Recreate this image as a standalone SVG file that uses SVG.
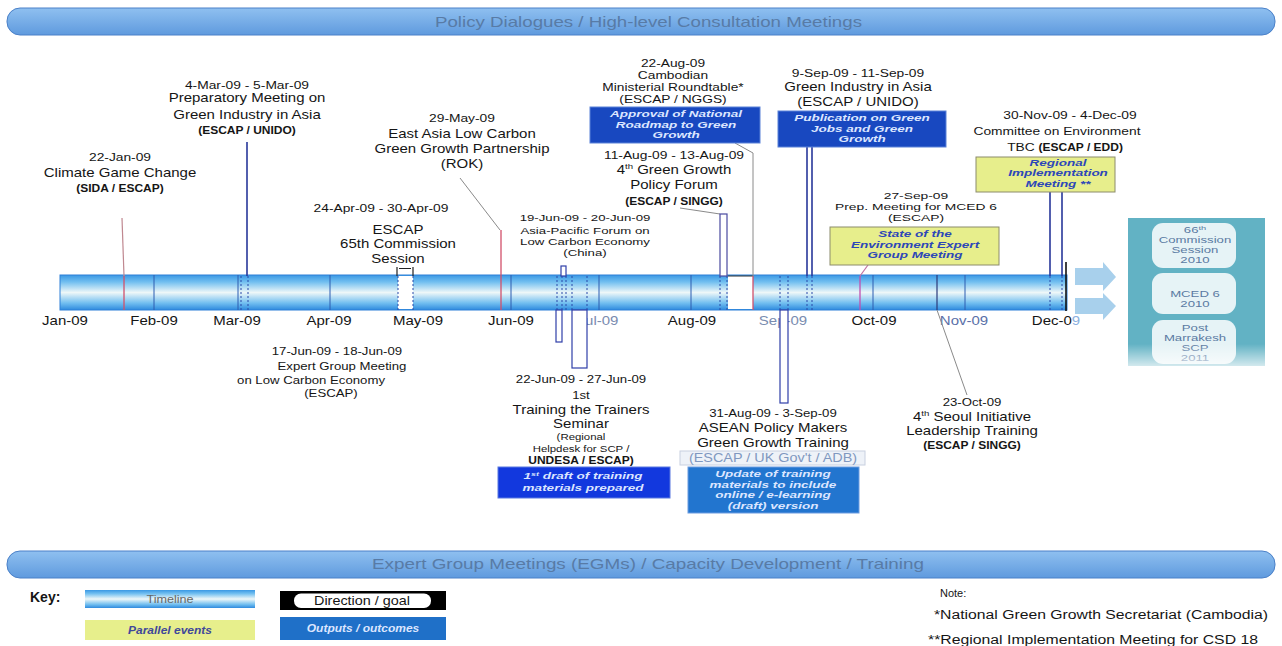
<svg xmlns="http://www.w3.org/2000/svg" width="1282" height="646" viewBox="0 0 1282 646">
<defs>
<linearGradient id="gTl" x1="0" y1="0" x2="0" y2="1">
<stop offset="0" stop-color="#3a98e4"/>
<stop offset="0.2" stop-color="#72bff0"/>
<stop offset="0.5" stop-color="#eef7f8"/>
<stop offset="0.8" stop-color="#72bff0"/>
<stop offset="1" stop-color="#2e8ade"/>
</linearGradient>
<linearGradient id="gHd" x1="0" y1="0" x2="0" y2="1">
<stop offset="0" stop-color="#8fc0f0"/>
<stop offset="1" stop-color="#5f9ade"/>
</linearGradient>
<linearGradient id="gFade" x1="0" y1="0" x2="0" y2="1">
<stop offset="0" stop-color="#fff" stop-opacity="0"/>
<stop offset="1" stop-color="#fff" stop-opacity="0.75"/>
</linearGradient>
</defs>
<style>
text{font-family:"Liberation Sans",Arial,sans-serif;fill:#151515}
.d{font-size:11.5px}
.t{font-size:12.5px}
.s{font-size:11px}
.p{font-size:10px;font-weight:bold}
.bw{font-size:9px;font-weight:bold;font-style:italic;fill:#dce6ff}
.by{font-size:9px;font-weight:bold;font-style:italic;fill:#2d47b8}
.m{font-size:12.5px}
.o{font-size:8.5px;fill:#5a7aa2}
.hd{font-size:14.5px;fill:#587ba6}
.ob{fill:#1848c0;stroke:#5b82d8;stroke-width:1}
.yl{fill:#e7ee8c;stroke:#8c8c6c;stroke-width:1}
.sep{stroke:#2d5cb0;stroke-width:1}
.dsh{stroke:#2848a8;stroke-width:1;stroke-dasharray:2 2}
.red{stroke:#d2506a;stroke-width:1.3;fill:none}
.gr{stroke:#8a8a8a;stroke-width:1;fill:none}
.nv{stroke:#27379a;stroke-width:1.6;fill:none}
.rng{fill:#fff;stroke:#2f3fa8;stroke-width:1.2}
</style>

<rect width="1282" height="646" fill="#fff"/>

<!-- header bars -->
<g id="header-top">
<rect x="7" y="8" width="1268" height="27" rx="13" fill="url(#gHd)" stroke="#4a80c8"/>
<text class="hd" x="435" y="27" textLength="427" lengthAdjust="spacingAndGlyphs">Policy Dialogues / High-level Consultation Meetings</text>
</g>
<g id="header-bottom">
<rect x="7" y="551" width="1268" height="27" rx="13" fill="url(#gHd)" stroke="#4a80c8"/>
<text class="hd" x="372" y="569" textLength="552" lengthAdjust="spacingAndGlyphs">Expert Group Meetings (EGMs) / Capacity Development / Training</text>
</g>

<!-- timeline -->
<g id="timeline">
<rect x="60" y="275" width="1007" height="35" fill="url(#gTl)" stroke="#2f80d8"/>
<rect x="398" y="276" width="15" height="33" fill="#fff"/>
<rect x="728" y="276" width="25" height="33" fill="#fff"/>
<line x1="728" y1="276" x2="753" y2="276" stroke="#333"/>
<g class="sep">
<line x1="154" y1="275" x2="154" y2="310"/>
<line x1="238" y1="275" x2="238" y2="310"/>
<line x1="330" y1="275" x2="330" y2="310"/>
<line x1="511" y1="275" x2="511" y2="310"/>
<line x1="599" y1="275" x2="599" y2="310"/>
<line x1="691" y1="275" x2="691" y2="310"/>
<line x1="873" y1="275" x2="873" y2="310"/>
<line x1="965" y1="275" x2="965" y2="310"/>
</g>
<g class="dsh">
<line x1="241" y1="276" x2="241" y2="310"/>
<line x1="248" y1="276" x2="248" y2="310"/>
<line x1="398" y1="276" x2="398" y2="310"/>
<line x1="413" y1="276" x2="413" y2="310"/>
<line x1="557" y1="276" x2="557" y2="310"/>
<line x1="562" y1="276" x2="562" y2="310"/>
<line x1="566" y1="276" x2="566" y2="310"/>
<line x1="572" y1="276" x2="572" y2="310"/>
<line x1="587" y1="276" x2="587" y2="310"/>
<line x1="720" y1="276" x2="720" y2="310"/>
<line x1="727" y1="276" x2="727" y2="310"/>
<line x1="780" y1="276" x2="780" y2="310"/>
<line x1="788" y1="276" x2="788" y2="310"/>
<line x1="807" y1="276" x2="807" y2="310"/>
<line x1="812" y1="276" x2="812" y2="310"/>
<line x1="1050" y1="276" x2="1050" y2="310"/>
<line x1="1062" y1="276" x2="1062" y2="310"/>
</g>
<g text-anchor="middle">
<g transform="translate(65 0) scale(1.2 1)"><text class="m" y="325">Jan-09</text></g>
<g transform="translate(154 0) scale(1.2 1)"><text class="m" y="325">Feb-09</text></g>
<g transform="translate(237 0) scale(1.2 1)"><text class="m" y="325">Mar-09</text></g>
<g transform="translate(329 0) scale(1.2 1)"><text class="m" y="325">Apr-09</text></g>
<g transform="translate(418 0) scale(1.2 1)"><text class="m" y="325">May-09</text></g>
<g transform="translate(511 0) scale(1.2 1)"><text class="m" y="325">Jun-09</text></g>
<g transform="translate(598 0) scale(1.2 1)"><text class="m" y="325" style="fill:#7a8cb0">Jul-09</text></g>
<g transform="translate(692 0) scale(1.2 1)"><text class="m" y="325">Aug-09</text></g>
<g transform="translate(783 0) scale(1.2 1)"><text class="m" y="325" style="fill:#7a8cb0">Sep-09</text></g>
<g transform="translate(874 0) scale(1.2 1)"><text class="m" y="325">Oct-09</text></g>
<g transform="translate(964 0) scale(1.2 1)"><text class="m" y="325" style="fill:#5a70a8">Nov-09</text></g>
<g transform="translate(1056 0) scale(1.2 1)"><text class="m" y="325">Dec-0<tspan style="fill:#8ab0e0">9</tspan></text></g>
</g>
</g>

<!-- connectors -->
<g id="connectors">
<line x1="122" y1="218" x2="124" y2="276" stroke="#c08890" stroke-width="1.2"/>
<line class="red" x1="124" y1="276" x2="124" y2="310"/>
<line class="nv" x1="247" y1="142" x2="247" y2="276"/>
<path d="M397,276 V267 M413,276 V267 M399,268.5 H411" stroke="#222" stroke-width="1.2" fill="none"/>
<path class="gr" d="M460,178 L500,230"/>
<line class="red" x1="501" y1="230" x2="501" y2="310"/>
<rect class="rng" x="561" y="266" width="5" height="10"/>
<path class="gr" d="M735,143 L753,153 V276"/>
<line class="red" x1="753" y1="276" x2="753" y2="310"/>
<path class="gr" d="M680,208 L720,214"/>
<rect x="720" y="214" width="7" height="62" fill="#fff" stroke="#4a4aa0" stroke-width="1.2"/>
<line class="nv" x1="807" y1="147" x2="807" y2="276"/>
<line class="nv" x1="812" y1="147" x2="812" y2="276"/>
<path d="M868,265 L860,276" stroke="#c070a0" stroke-width="1.2" fill="none"/>
<line x1="860" y1="276" x2="860" y2="310" stroke="#c050b0" stroke-width="1.3"/>
<line class="nv" x1="1050" y1="192" x2="1050" y2="276"/>
<line class="nv" x1="1062" y1="192" x2="1062" y2="276"/>
<line x1="1066" y1="262" x2="1066" y2="311" stroke="#111" stroke-width="1.6"/>
<rect class="rng" x="556" y="310" width="6" height="32"/>
<rect class="rng" x="572" y="310" width="15" height="58"/>
<rect class="rng" x="780" y="310" width="8" height="93"/>
<line x1="937" y1="275" x2="937" y2="310" stroke="#2a3a7a" stroke-width="1.2"/>
<path class="gr" d="M937,310 L967,395"/>
</g>

<!-- events above -->
<g id="ev-climate-game-change">
<g transform="translate(120 0) scale(1.2 1)" text-anchor="middle">
<text class="d" y="161">22-Jan-09</text>
<text class="t" y="177">Climate Game Change</text>
<text class="p" y="192">(SIDA / ESCAP)</text>
</g></g>

<g id="ev-prep-green-industry">
<g transform="translate(247 0) scale(1.2 1)" text-anchor="middle">
<text class="d" y="89">4-Mar-09 - 5-Mar-09</text>
<text class="t" y="102.5">Preparatory Meeting on</text>
<text class="t" y="119">Green Industry in Asia</text>
<text class="p" y="134">(ESCAP / UNIDO)</text>
</g></g>

<g id="ev-escap-65th">
<g transform="translate(381 0) scale(1.2 1)" text-anchor="middle">
<text class="d" y="212">24-Apr-09 - 30-Apr-09</text>
</g>
<g transform="translate(398 0) scale(1.2 1)" text-anchor="middle">
<text class="t" y="234.5">ESCAP</text>
<text class="t" y="248.5">65th Commission</text>
<text class="t" y="263">Session</text>
</g></g>

<g id="ev-east-asia-low-carbon">
<g transform="translate(462 0) scale(1.2 1)" text-anchor="middle">
<text class="d" y="122">29-May-09</text>
<text class="t" y="138.5">East Asia Low Carbon</text>
<text class="t" y="153.5">Green Growth Partnership</text>
<text class="t" y="168.5">(ROK)</text>
</g></g>

<g id="ev-asia-pacific-forum">
<g transform="translate(585 0) scale(1.39 1)" text-anchor="middle" style="font-size:9.5px">
<text y="221">19-Jun-09 - 20-Jun-09</text>
<text y="234.5">Asia-Pacific Forum on</text>
<text y="245.5">Low Carbon Economy</text>
<text y="256.5">(China)</text>
</g></g>

<g id="ev-cambodian-roundtable">
<rect class="ob" x="590" y="107" width="170" height="36"/>
<g transform="translate(673 0) scale(1.31 1)" text-anchor="middle" style="font-size:10.5px">
<text y="67">22-Aug-09</text>
<text y="79.5">Cambodian</text>
<text y="91.5">Ministerial Roundtable*</text>
<text y="103.5">(ESCAP / NGGS)</text>
</g>
<g transform="translate(676 0) scale(1.5 1)" text-anchor="middle">
<text class="bw" y="117.5">Approval of National</text>
<text class="bw" y="128">Roadmap to Green</text>
<text class="bw" y="138.5">Growth</text>
</g></g>

<g id="ev-green-growth-policy-forum">
<g transform="translate(674 0) scale(1.2 1)" text-anchor="middle">
<text class="d" y="159">11-Aug-09 - 13-Aug-09</text>
<text class="t" y="174">4<tspan font-size="8" dy="-5">th</tspan><tspan dy="5"> Green Growth</tspan></text>
<text class="t" y="189.5">Policy Forum</text>
<text class="p" y="205">(ESCAP / SINGG)</text>
</g></g>

<g id="ev-green-industry-asia">
<rect class="ob" x="778" y="111" width="168" height="36"/>
<g transform="translate(858 0) scale(1.2 1)" text-anchor="middle">
<text class="d" y="77">9-Sep-09 - 11-Sep-09</text>
<text class="t" y="91.5">Green Industry in Asia</text>
<text class="t" y="106.5">(ESCAP / UNIDO)</text>
</g>
<g transform="translate(862 0) scale(1.5 1)" text-anchor="middle">
<text class="bw" y="121.5">Publication on Green</text>
<text class="bw" y="132">Jobs and Green</text>
<text class="bw" y="142.5">Growth</text>
</g></g>

<g id="ev-prep-mced6">
<rect class="yl" x="830" y="227" width="169" height="38"/>
<g transform="translate(916 0) scale(1.41 1)" text-anchor="middle" style="font-size:9.8px">
<text y="199">27-Sep-09</text>
<text y="210.5">Prep. Meeting for MCED 6</text>
<text y="221.5">(ESCAP)</text>
</g>
<g transform="translate(915 0) scale(1.5 1)" text-anchor="middle">
<text class="by" y="237.5">State of the</text>
<text class="by" y="248">Environment Expert</text>
<text class="by" y="258.5">Group Meeting</text>
</g></g>

<g id="ev-committee-environment">
<rect class="yl" x="976" y="157" width="139" height="35"/>
<g transform="translate(1070 0) scale(1.2 1)" text-anchor="middle">
<text class="d" y="119">30-Nov-09 - 4-Dec-09</text>
</g>
<g transform="translate(1057 0) scale(1.2 1)" text-anchor="middle">
<text class="d" y="135.5">Committee on Environment</text>
</g>
<g transform="translate(1065 0) scale(1.2 1)" text-anchor="middle">
<text class="d" y="151">TBC <tspan class="p">(ESCAP / EDD)</tspan></text>
</g>
<g transform="translate(1058 0) scale(1.5 1)" text-anchor="middle">
<text class="by" y="166">Regional</text>
<text class="by" y="176.5">Implementation</text>
<text class="by" y="187">Meeting **</text>
</g></g>

<!-- goals -->
<g id="goals">
<path d="M1075,268 H1103 V262 L1116,277 L1103,291 V285 H1075 Z" fill="#a8d0ec"/>
<path d="M1075,298 H1103 V293 L1116,306 L1103,320 V314 H1075 Z" fill="#a8d0ec"/>
<rect x="1128" y="218" width="137" height="148" fill="#62b2c4"/>
<rect x="1152" y="223" width="84" height="45" rx="11" fill="#e6f3f6"/>
<rect x="1152" y="273" width="84" height="41" rx="11" fill="#e6f3f6"/>
<rect x="1152" y="320" width="84" height="44" rx="11" fill="#e6f3f6"/>
<g transform="translate(1195 0) scale(1.55 1)" text-anchor="middle">
<text class="o" y="233">66<tspan font-size="6" dy="-3">th</tspan></text>
<text class="o" y="243">Commission</text>
<text class="o" y="253">Session</text>
<text class="o" y="263">2010</text>
<text class="o" y="297">MCED 6</text>
<text class="o" y="307">2010</text>
<text class="o" y="331">Post</text>
<text class="o" y="341">Marrakesh</text>
<text class="o" y="351">SCP</text>
<text class="o" y="361">2011</text>
</g>
<rect x="1128" y="344" width="137" height="23" fill="url(#gFade)"/>
</g>

<!-- events below -->
<g id="ev-egm-low-carbon">
<g transform="scale(1.2 1)" text-anchor="middle">
<text class="s" x="280.8" y="355">17-Jun-09 - 18-Jun-09</text>
<text class="s" x="285" y="370">Expert Group Meeting</text>
<text class="s" x="259.2" y="384">on Low Carbon Economy</text>
<text class="s" x="275.8" y="397">(ESCAP)</text>
</g></g>

<g id="ev-training-trainers">
<rect x="498" y="467" width="172" height="31" fill="#1238de" stroke="#5a78e0"/>
<g transform="translate(581 0) scale(1.2 1)" text-anchor="middle">
<text class="s" y="383">22-Jun-09 - 27-Jun-09</text>
<text class="s" y="399">1st</text>
<text class="t" y="414.5">Training the Trainers</text>
<text class="t" y="428.5">Seminar</text>
<text style="font-size:9.5px" y="440.5">(Regional</text>
<text style="font-size:9.5px" y="452.5">Helpdesk for SCP /</text>
<text class="p" y="464.5">UNDESA / ESCAP)</text>
</g>
<g transform="translate(583 0) scale(1.5 1)" text-anchor="middle">
<text class="bw" y="479">1<tspan font-size="6" dy="-3">st</tspan><tspan dy="3"> draft of training</tspan></text>
<text class="bw" y="491">materials prepared</text>
</g></g>

<g id="ev-asean-training">
<rect x="680" y="451" width="185" height="14" fill="#eef2f8" stroke="#c8d0e0"/>
<rect x="688" y="467" width="171" height="46" fill="#2275cf" stroke="#6a9ce0"/>
<g transform="translate(773 0) scale(1.2 1)" text-anchor="middle">
<text class="s" y="417">31-Aug-09 - 3-Sep-09</text>
<text class="t" y="432.5">ASEAN Policy Makers</text>
<text class="t" y="447.5">Green Growth Training</text>
<text style="font-size:12px;fill:#8098c0" y="462.5">(ESCAP / UK Gov't / ADB)</text>
</g>
<g transform="translate(773 0) scale(1.5 1)" text-anchor="middle">
<text class="bw" y="477.5">Update of training</text>
<text class="bw" y="488">materials to include</text>
<text class="bw" y="498.5">online / e-learning</text>
<text class="bw" y="509">(draft) version</text>
</g></g>

<g id="ev-seoul-initiative">
<g transform="translate(972 0) scale(1.2 1)" text-anchor="middle">
<text class="s" y="406">23-Oct-09</text>
<text class="t" y="421.5">4<tspan font-size="8" dy="-5">th</tspan><tspan dy="5"> Seoul Initiative</tspan></text>
<text class="t" y="435.5">Leadership Training</text>
<text class="p" y="449">(ESCAP / SINGG)</text>
</g></g>

<!-- key -->
<g id="key">
<text x="30" y="602" style="font-size:14px;font-weight:bold">Key:</text>
<rect x="85" y="590" width="170" height="18" fill="url(#gTl)"/>
<g transform="translate(170 0) scale(1.2 1)" text-anchor="middle"><text y="603" style="font-size:10.5px;fill:#666">Timeline</text></g>
<rect x="85" y="620" width="170" height="20" fill="#e7ef8c"/>
<g transform="translate(170 0) scale(1.2 1)" text-anchor="middle"><text y="634" class="by" style="font-size:10px;fill:#40489a">Parallel events</text></g>
<rect x="280" y="591" width="166" height="19" fill="#000"/>
<rect x="294" y="593.5" width="137" height="14.5" rx="7" fill="#fff"/>
<g transform="translate(362 0) scale(1.2 1)" text-anchor="middle"><text y="605" style="font-size:12px">Direction / goal</text></g>
<rect x="280" y="617" width="166" height="23" fill="#1f70c8"/>
<g transform="translate(363 0) scale(1.2 1)" text-anchor="middle"><text y="632" class="bw" style="font-size:10px">Outputs / outcomes</text></g>
</g>

<g id="notes">
<text x="940" y="597" style="font-size:11px">Note:</text>
<text x="934" y="619" style="font-size:12.5px" textLength="334" lengthAdjust="spacingAndGlyphs">*National Green Growth Secretariat (Cambodia)</text>
<text x="928" y="644" style="font-size:12.5px" textLength="330" lengthAdjust="spacingAndGlyphs">**Regional Implementation Meeting for CSD 18</text>
</g>
</svg>
